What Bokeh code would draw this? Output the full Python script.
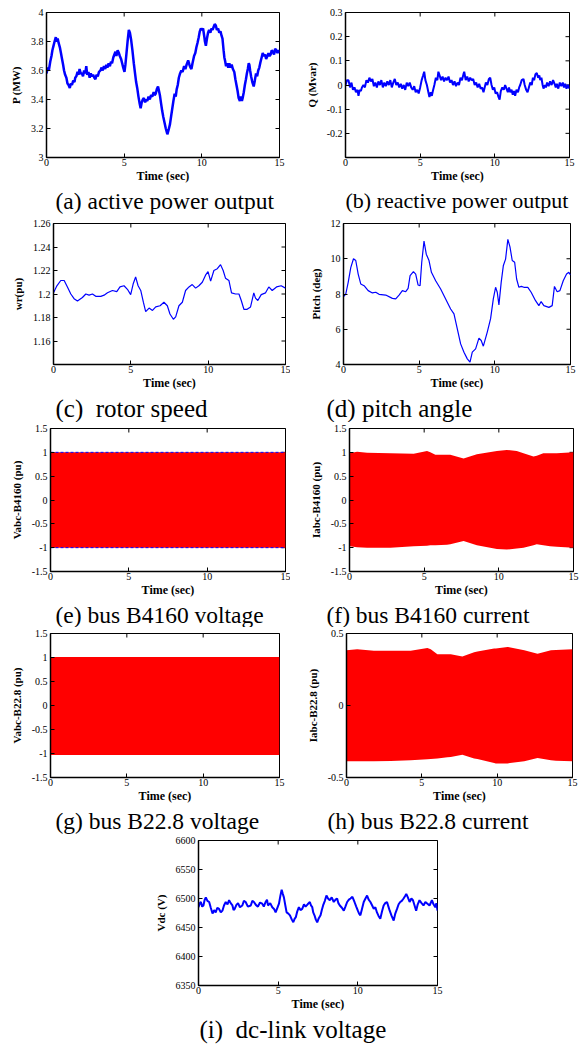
import math
from bokeh.plotting import figure
from bokeh.layouts import column, row, Spacer
from bokeh.models import FixedTicker, Title, Range1d
from bokeh.embed import file_html
from bokeh.resources import INLINE

# ---------------- data ----------------
X_TICKS = [0, 5, 10, 15]

# (a) active power P (MW)
P_T = [0.0, 0.08, 0.15, 0.24, 0.32, 0.38, 0.45, 0.52, 0.6, 0.66, 0.72, 0.78, 0.86, 0.93, 1.0, 1.07, 1.13, 1.2,
       1.28, 1.35, 1.42, 1.5, 1.57, 1.64, 1.72, 1.8, 1.85, 1.92, 2.0, 2.06, 2.13, 2.2, 2.28, 2.35, 2.42, 2.5,
       2.56, 2.62, 2.7, 2.78, 2.85, 2.92, 3.0, 3.08, 3.15, 3.22, 3.3, 3.38, 3.47, 3.55, 3.62, 3.7, 3.78, 3.85,
       3.92, 4.0, 4.08, 4.15, 4.22, 4.3, 4.37, 4.44, 4.5, 4.58, 4.66, 4.72, 4.8, 4.87, 4.94, 5.02, 5.08, 5.15,
       5.22, 5.3, 5.37, 5.45, 5.53, 5.62, 5.7, 5.77, 5.84, 5.92, 6.0, 6.06, 6.13, 6.2, 6.27, 6.35, 6.42, 6.49,
       6.57, 6.65, 6.73, 6.81, 6.9, 6.96, 7.03, 7.1, 7.18, 7.24, 7.3, 7.38, 7.45, 7.52, 7.6, 7.68, 7.78, 7.86,
       7.95, 8.03, 8.1, 8.17, 8.25, 8.32, 8.38, 8.45, 8.52, 8.6, 8.68, 8.76, 8.86, 8.94, 9.02, 9.12, 9.2, 9.27,
       9.33, 9.4, 9.5, 9.58, 9.65, 9.72, 9.8, 9.87, 9.94, 10.01, 10.08, 10.15, 10.2, 10.26, 10.33, 10.4, 10.47,
       10.55, 10.62, 10.69, 10.76, 10.83, 10.9, 10.97, 11.05, 11.12, 11.2, 11.27, 11.33, 11.4, 11.45, 11.49,
       11.56, 11.63, 11.7, 11.77, 11.85, 11.92, 12.0, 12.09, 12.16, 12.23, 12.3, 12.37, 12.45, 12.52, 12.58,
       12.63, 12.7, 12.77, 12.84, 12.9, 12.96, 13.02, 13.06, 13.11, 13.17, 13.25, 13.34, 13.41, 13.49, 13.56,
       13.63, 13.7, 13.78, 13.85, 13.92, 14.0, 14.07, 14.14, 14.22, 14.29, 14.36, 14.43, 14.5, 14.57, 14.65,
       14.72, 14.79, 14.87, 14.94, 15.0]
P_V = [3.58, 3.62, 3.60, 3.66, 3.70, 3.74, 3.77, 3.80, 3.83, 3.80, 3.82, 3.79, 3.76, 3.72, 3.68, 3.64, 3.60, 3.57,
       3.55, 3.51, 3.50, 3.48, 3.51, 3.50, 3.53, 3.52, 3.55, 3.56, 3.59, 3.57, 3.61, 3.58, 3.58, 3.56, 3.60, 3.58,
       3.63, 3.57, 3.59, 3.55, 3.58, 3.56, 3.57, 3.55, 3.54, 3.57, 3.56, 3.59, 3.60, 3.62, 3.60, 3.63, 3.61, 3.64,
       3.62, 3.65, 3.63, 3.66, 3.65, 3.69, 3.71, 3.73, 3.70, 3.74, 3.72, 3.70, 3.68, 3.65, 3.62, 3.59, 3.64, 3.72,
       3.80, 3.88, 3.86, 3.81, 3.74, 3.65, 3.58, 3.52, 3.48, 3.42, 3.37, 3.34, 3.38, 3.40, 3.41, 3.38, 3.40, 3.39,
       3.42, 3.40, 3.43, 3.42, 3.45, 3.43, 3.44, 3.47, 3.49, 3.46, 3.43, 3.37, 3.32, 3.28, 3.24, 3.20, 3.16, 3.19,
       3.23, 3.29, 3.34, 3.39, 3.44, 3.42, 3.47, 3.50, 3.55, 3.58, 3.60, 3.59, 3.63, 3.61, 3.64, 3.67, 3.64, 3.62,
       3.61, 3.65, 3.70, 3.72, 3.76, 3.79, 3.83, 3.87, 3.89, 3.88, 3.89, 3.84, 3.80, 3.77, 3.82, 3.86, 3.88,
       3.86, 3.89, 3.88, 3.90, 3.92, 3.91, 3.88, 3.89, 3.86, 3.87, 3.84, 3.82, 3.74, 3.69, 3.67,
       3.63, 3.65, 3.62, 3.65, 3.62, 3.64, 3.61, 3.59, 3.54, 3.50, 3.46, 3.41, 3.39, 3.42, 3.39,
       3.41, 3.45, 3.50, 3.54, 3.58, 3.61, 3.65, 3.64, 3.60, 3.56, 3.52, 3.49, 3.53, 3.58, 3.56,
       3.60, 3.62, 3.66, 3.69, 3.72, 3.70, 3.71, 3.68, 3.70, 3.72, 3.70, 3.71, 3.74, 3.73, 3.71,
       3.75, 3.74, 3.72, 3.74, 3.72]
P_TICKS = [3, 3.2, 3.4, 3.6, 3.8, 4]
P_LABELS = ["3", "3.2", "3.4", "3.6", "3.8", "4"]

# (b) reactive power Q (Mvar)
Q_T = [0.0, 0.1, 0.2, 0.3, 0.4, 0.5, 0.6, 0.7, 0.8, 0.87, 0.95, 1.03, 1.1, 1.2, 1.3, 1.4, 1.5, 1.6, 1.7, 1.8,
       1.9, 2.0, 2.1, 2.2, 2.3, 2.4, 2.5, 2.6, 2.7, 2.8, 2.9, 3.0, 3.1, 3.2, 3.3, 3.4, 3.5, 3.6, 3.7, 3.8, 3.9,
       4.0, 4.1, 4.2, 4.3, 4.4, 4.5, 4.6, 4.7, 4.8, 4.9, 5.0, 5.1, 5.2, 5.27, 5.35, 5.45, 5.55, 5.62, 5.7, 5.78,
       5.85, 5.95, 6.05, 6.15, 6.22, 6.3, 6.4, 6.5, 6.6, 6.7, 6.8, 6.9, 7.0, 7.1, 7.2, 7.3, 7.4, 7.5, 7.6, 7.7,
       7.8, 7.9, 7.95, 8.05, 8.15, 8.25, 8.35, 8.45, 8.55, 8.65, 8.75, 8.85, 8.95, 9.05, 9.15, 9.24, 9.32, 9.4,
       9.5, 9.6, 9.69, 9.78, 9.87, 9.96, 10.05, 10.15, 10.25, 10.32, 10.4, 10.5, 10.6, 10.69, 10.78, 10.87,
       10.95, 11.03, 11.12, 11.2, 11.28, 11.36, 11.45, 11.55, 11.63, 11.7, 11.8, 11.92, 12.0, 12.1, 12.19,
       12.28, 12.37, 12.47, 12.55, 12.63, 12.72, 12.81, 12.9, 12.98, 13.04, 13.12, 13.2, 13.26, 13.34, 13.42,
       13.5, 13.6, 13.7, 13.8, 13.9, 14.0, 14.08, 14.15, 14.25, 14.35, 14.45, 14.55, 14.63, 14.71, 14.8, 14.9,
       15.0]
Q_V = [0.0, 0.02, 0.02, -0.01, 0.01, -0.02, -0.01, -0.03, -0.02, -0.045, -0.02, -0.025, -0.01, 0.0, -0.01, 0.02,
       0.01, 0.03, 0.015, 0.025, -0.005, 0.01, -0.01, 0.015, 0.0, 0.02, -0.01, 0.01, -0.005, 0.015, 0.0, 0.02,
       -0.01, 0.01, 0.025, 0.0, 0.01, -0.01, 0.005, -0.015, 0.0, -0.02, 0.01, -0.005, 0.01, -0.01, -0.02, -0.005,
       -0.03, -0.02, -0.035, -0.01, 0.02, 0.04, 0.055, 0.02, 0.0, -0.03, -0.05, -0.03, -0.045, -0.025, 0.0, 0.03,
       0.02, 0.055, 0.04, 0.02, 0.035, 0.015, 0.03, 0.02, 0.035, 0.01, 0.02, 0.0, 0.015, -0.005, 0.01, 0.0, 0.03,
       0.02, 0.045, 0.055, 0.02, 0.035, 0.015, 0.03, 0.02, 0.025, 0.0, 0.01, -0.01, 0.005, -0.015, -0.01, -0.03,
       -0.01, 0.01, 0.0, 0.025, 0.03, 0.0, -0.02, -0.01, -0.035, -0.03, -0.05, -0.06, -0.025, -0.01, -0.02, 0.0,
       -0.015, -0.03, -0.01, -0.03, -0.02, -0.04, -0.025, -0.045, -0.02, -0.03, -0.01, 0.0, 0.02, 0.025, 0.0,
       -0.02, -0.03, -0.01, 0.01, 0.0, 0.03, 0.02, 0.045, 0.05, 0.03, 0.04, 0.02, 0.03, 0.0, -0.015, 0.0, -0.01,
       0.01, -0.005, 0.015, 0.0, 0.02, 0.005, -0.01, 0.005, -0.015, 0.01, -0.005, 0.01, -0.01, 0.005, -0.015,
       0.0, -0.015]
Q_TICKS = [-0.2, -0.1, 0, 0.1, 0.2, 0.3]
Q_LABELS = ["-0.2", "-0.1", "0", "0.1", "0.2", "0.3"]

# (c) rotor speed wr (pu)
W_T = [0, 0.22, 0.47, 0.69, 0.9, 1.12, 1.33, 1.55, 1.87, 2.09, 2.3, 2.52, 2.73, 3.06, 3.27, 3.49, 3.81, 4.09,
       4.3, 4.56, 4.78, 4.99, 5.16, 5.31, 5.47, 5.64, 5.81, 5.96, 6.18, 6.4, 6.61, 6.89, 7.14, 7.36, 7.53, 7.75,
       7.9, 8.11, 8.33, 8.54, 8.76, 8.97, 9.19, 9.4, 9.62, 9.83, 9.99, 10.16, 10.37, 10.59, 10.8, 10.97, 11.12,
       11.34, 11.51, 11.77, 11.99, 12.14, 12.31, 12.52, 12.74, 12.95, 13.06, 13.21, 13.43, 13.71, 13.92, 14.14,
       14.42, 14.72, 15.0]
W_V = [1.201, 1.207, 1.2115, 1.2115, 1.206, 1.200, 1.196, 1.194, 1.197, 1.200, 1.199, 1.200, 1.198, 1.198, 1.199,
       1.201, 1.203, 1.202, 1.206, 1.207, 1.204, 1.1995, 1.209, 1.2145, 1.207, 1.203, 1.193, 1.185, 1.188, 1.186,
       1.189, 1.190, 1.193, 1.190, 1.183, 1.1785, 1.1805, 1.190, 1.193, 1.203, 1.206, 1.208, 1.205, 1.207, 1.210,
       1.216, 1.219, 1.211, 1.220, 1.2215, 1.225, 1.220, 1.2135, 1.2115, 1.201, 1.200, 1.200, 1.1945, 1.187,
       1.187, 1.189, 1.201, 1.1965, 1.1945, 1.1995, 1.201, 1.206, 1.203, 1.206, 1.207, 1.205]
W_TICKS = [1.16, 1.18, 1.2, 1.22, 1.24, 1.26]
W_LABELS = ["1.16", "1.18", "1.2", "1.22", "1.24", "1.26"]

# (d) pitch angle (deg)
B_T = [0, 0.15, 0.31, 0.48, 0.66, 0.81, 0.97, 1.14, 1.36, 1.63, 1.91, 2.13, 2.35, 2.79, 3.23, 3.45, 3.67, 3.89,
       4.11, 4.27, 4.4, 4.62, 4.77, 4.93, 5.06, 5.17, 5.32, 5.47, 5.65, 5.81, 6.09, 6.42, 6.75, 7.08, 7.3, 7.52,
       7.74, 7.96, 8.18, 8.36, 8.51, 8.73, 8.95, 9.1, 9.24, 9.5, 9.72, 9.9, 10.05, 10.16, 10.27, 10.42, 10.56,
       10.71, 10.86, 11.0, 11.15, 11.31, 11.44, 11.59, 11.75, 11.92, 12.18, 12.4, 12.69, 12.91, 13.06, 13.24,
       13.57, 13.79, 13.94, 14.12, 14.3, 14.52, 14.74, 14.89, 15.0]
B_V = [7.85, 8.0, 8.66, 9.5, 10.0, 9.9, 9.13, 8.57, 8.47, 8.19, 8.06, 8.1, 7.98, 7.94, 7.75, 7.72, 7.94, 8.19,
       8.13, 8.32, 9.04, 9.27, 9.13, 8.51, 8.47, 9.8, 11.0, 10.26, 9.9, 9.23, 8.75, 8.28, 7.72, 7.15, 6.87, 6.02,
       5.17, 4.7, 4.32, 4.13, 4.7, 4.89, 5.5, 5.36, 5.04, 5.84, 6.6, 7.72, 8.38, 8.1, 7.38, 8.66, 9.6,
       9.98, 11.1, 10.67, 9.9, 9.8, 8.85, 8.38, 8.43, 8.38, 8.38, 8.1, 7.62, 7.34, 7.57, 7.34,
       7.24, 7.34, 8.43, 8.13, 8.19, 8.75, 9.13, 9.23, 9.08]
B_TICKS = [4, 6, 8, 10, 12]
B_LABELS = ["4", "6", "8", "10", "12"]

PU_TICKS = [-1.5, -1, -0.5, 0, 0.5, 1, 1.5]
PU_LABELS = ["-1.5", "-1", "-0.5", "0", "0.5", "1", "1.5"]

# (e) bus B4160 voltage envelope (pu)
E_T = [0, 5, 10, 15]
E_HI = [1.0, 1.0, 1.0, 1.0]
E_LO = [-1.0, -1.0, -1.0, -1.0]

# (f) bus B4160 current envelope (pu)
F_T = [0, 0.51, 1.18, 2.74, 4.3, 5.19, 5.41, 5.75, 6.53, 6.75, 7.64, 8.53, 9.87, 10.53, 11.2, 11.65, 12.32,
       12.54, 12.98, 13.43, 13.88, 15.0]
F_HI = [0.98, 1.01, 0.99, 0.98, 0.97, 1.03, 1.0, 0.95, 0.95, 0.95, 0.87, 0.96, 1.03, 1.05, 1.03, 0.98, 0.91,
        0.93, 0.98, 0.98, 0.98, 1.0]
F_LO = [-0.97, -0.99, -1.0, -1.0, -0.97, -0.96, -0.95, -0.95, -0.94, -0.93, -0.86, -0.95, -1.03, -1.04, -1.02,
        -1.0, -0.95, -0.93, -0.95, -0.97, -0.98, -1.0]

# (g) bus B22.8 voltage envelope (pu)
G_T = [0, 5, 10, 15]
G_HI = [1.01, 1.01, 1.01, 1.01]
G_LO = [-1.03, -1.03, -1.03, -1.03]

# (h) bus B22.8 current envelope (pu)
H_T = [0, 0.71, 1.82, 2.93, 4.26, 5.37, 5.59, 6.03, 6.7, 6.92, 7.69, 8.47, 8.69, 9.8, 9.91, 10.69, 11.8, 12.68,
       13.57, 13.9, 15.0]
H_HI = [0.384, 0.39, 0.38, 0.38, 0.38, 0.40, 0.39, 0.356, 0.356, 0.356, 0.34, 0.37, 0.375, 0.395, 0.395, 0.407,
        0.384, 0.36, 0.384, 0.386, 0.39]
H_LO = [-0.388, -0.388, -0.388, -0.385, -0.38, -0.374, -0.372, -0.368, -0.36, -0.357, -0.342, -0.368, -0.372,
        -0.4, -0.402, -0.402, -0.388, -0.365, -0.38, -0.384, -0.388]
H_TICKS = [-0.5, 0, 0.5]
H_LABELS = ["-0.5", "0", "0.5"]

# (i) dc-link voltage (V)
V_T = [0, 0.08, 0.15, 0.23, 0.31, 0.38, 0.46, 0.56, 0.67, 0.77, 0.88, 0.98, 1.08, 1.18, 1.29, 1.4, 1.5, 1.6,
       1.71, 1.82, 1.92, 2.02, 2.13, 2.2, 2.27, 2.38, 2.48, 2.6, 2.75, 2.85, 2.96, 3.1, 3.28, 3.38, 3.48, 3.6,
       3.73, 3.86, 4.0, 4.1, 4.21, 4.3, 4.36, 4.5, 4.63, 4.74, 4.84, 4.95, 5.05, 5.14, 5.22, 5.29, 5.36, 5.45,
       5.53, 5.64, 5.74, 5.85, 5.95, 6.03, 6.11, 6.2, 6.3, 6.4, 6.51, 6.62, 6.72, 6.85, 6.99, 7.06, 7.14, 7.2,
       7.28, 7.36, 7.45, 7.55, 7.66, 7.74, 7.82, 7.93, 8.03, 8.13, 8.24, 8.36, 8.49, 8.6, 8.7, 8.78, 8.87, 9.0,
       9.12, 9.22, 9.33, 9.44, 9.54, 9.66, 9.79, 9.9, 10.0, 10.08, 10.16, 10.26, 10.37, 10.48, 10.58, 10.68,
       10.79, 10.9, 11.0, 11.1, 11.2, 11.3, 11.41, 11.52, 11.62, 11.72, 11.83, 11.92, 12.0, 12.12, 12.25, 12.35,
       12.46, 12.56, 12.66, 12.76, 12.87, 12.96, 13.04, 13.14, 13.25, 13.36, 13.46, 13.56, 13.66, 13.76, 13.87,
       14.0, 14.12, 14.24, 14.37, 14.5, 14.65, 14.75, 14.86, 14.93, 15.0]
V_V = [6485, 6492, 6494, 6486, 6488, 6497, 6502, 6496, 6494, 6484, 6474, 6480, 6476, 6484, 6482, 6476, 6479, 6488,
       6494, 6490, 6497, 6492, 6488, 6480, 6482, 6489, 6492, 6485, 6488, 6496, 6494, 6486, 6488, 6496, 6494, 6489,
       6486, 6493, 6491, 6486, 6494, 6498, 6488, 6492, 6485, 6482, 6476, 6484, 6491, 6505, 6515, 6508, 6502, 6488,
       6476, 6474, 6471, 6464, 6459, 6465, 6468, 6478, 6485, 6480, 6482, 6490, 6486, 6490, 6494, 6488, 6485, 6476,
       6471, 6464, 6459, 6466, 6471, 6480, 6488, 6496, 6505, 6500, 6497, 6502, 6494, 6498, 6500, 6492, 6488, 6484,
       6479, 6486, 6494, 6498, 6500, 6503, 6494, 6486, 6479, 6474, 6471, 6482, 6494, 6500, 6505, 6498,
       6494, 6488, 6482, 6485, 6476, 6470, 6465, 6478, 6488, 6492, 6494, 6486, 6479, 6470, 6462, 6474,
       6482, 6490, 6494, 6496, 6500, 6504, 6508, 6502, 6494, 6500, 6497, 6488, 6479, 6490, 6497,
       6492, 6488, 6494, 6491, 6488, 6497, 6490, 6485, 6492, 6479]
V_TICKS = [6350, 6400, 6450, 6500, 6550, 6600]
V_LABELS = ["6350", "6400", "6450", "6500", "6550", "6600"]

# ---------------- styling helpers ----------------
SERIF = "Liberation Serif"
BLUE = "#0000FF"
RED = "#FF0000"


def make_fig(W, H, L, T, fw, fh, yr, yticks, ylabels, ylabel, caption, cap_off, cap_size):
    R = W - L - fw
    B = H - T - fh
    p = figure(width=W, height=H, min_border_left=L, min_border_right=R,
               min_border_top=T, min_border_bottom=B,
               x_range=Range1d(X_TICKS[0], X_TICKS[-1]), y_range=Range1d(*yr),
               output_backend="svg", toolbar_location=None, tools="")
    p.xgrid.visible = False
    p.ygrid.visible = False
    p.outline_line_color = "black"
    p.outline_line_width = 1
    p.background_fill_color = "white"
    p.border_fill_color = "white"

    xa = p.xaxis[0]
    ya = p.yaxis[0]
    xa.ticker = FixedTicker(ticks=X_TICKS)
    ya.ticker = FixedTicker(ticks=yticks)
    xa.major_label_overrides = {t: str(t) for t in X_TICKS}
    ya.major_label_overrides = {t: s for t, s in zip(yticks, ylabels)}
    for ax in (xa, ya):
        ax.major_tick_in = 4
        ax.major_tick_out = 0
        ax.minor_tick_line_color = None
        ax.axis_line_color = "black"
        ax.axis_line_width = 1.5
        ax.major_tick_line_color = "black"
        ax.major_label_text_font = SERIF
        ax.major_label_text_font_size = "10px"
        ax.major_label_text_color = "black"
        ax.axis_label_text_font = SERIF
        ax.axis_label_text_font_style = "bold"
        ax.axis_label_text_color = "black"
    xa.axis_label = "Time (sec)"
    xa.axis_label_text_font_size = "12px"
    xa.major_label_standoff = 1
    xa.axis_label_standoff = 0
    ya.axis_label = ylabel
    ya.axis_label_text_font_size = "11px"
    ya.major_label_standoff = 3
    ya.axis_label_standoff = 6

    # inward tick marks on the right and top edges (MATLAB box style)
    p.scatter(x=[X_TICKS[-1]] * len(yticks), y=yticks, marker="dash", size=8,
              line_color="black", line_width=1)
    p.scatter(x=X_TICKS, y=[yr[1]] * len(X_TICKS), marker="dash", size=8,
              angle=math.pi / 2, line_color="black", line_width=1)

    cap = Title(text=caption, align="left", offset=cap_off, text_font=SERIF,
                text_font_size=cap_size, text_font_style="normal", text_color="black",
                standoff=0)
    p.add_layout(cap, "below")
    return p


# row 1
fa = make_fig(290, 217, 46, 9, 233, 148, (3, 4), P_TICKS, P_LABELS, "P (MW)",
              "(a) active power output", 9, "23.5px")
fa.line(P_T, P_V, line_color=BLUE, line_width=2.5)
fb = make_fig(290, 217, 55, 12, 224, 145, (-0.3, 0.3), Q_TICKS, Q_LABELS, "Q (Mvar)",
              "(b) reactive power output", 0, "22px")
fb.line(Q_T, Q_V, line_color=BLUE, line_width=2)

# row 2
fc = make_fig(290, 205, 53, 5, 232, 142, (1.14, 1.26), W_TICKS, W_LABELS, "wr(pu)",
              "(c)\u00a0 rotor speed", 2, "25px")
fc.line(W_T, W_V, line_color=BLUE, line_width=1.2)
fd = make_fig(290, 205, 53, 6, 227, 141, (4, 12), B_TICKS, B_LABELS, "Pitch (deg)",
              "(d) pitch angle", -17, "25px")
fd.line(B_T, B_V, line_color=BLUE, line_width=1.2)

# row 3
fe = make_fig(290, 205, 50, 6, 235, 143, (-1.5, 1.5), PU_TICKS, PU_LABELS, "Vabc-B4160 (pu)",
              "(e) bus B4160 voltage", 5, "23.5px")
fe.varea(x=E_T, y1=E_LO, y2=E_HI, fill_color=RED)
fe.line(E_T, E_HI, line_color=BLUE, line_width=1, line_dash="3 2")
fe.line(E_T, E_LO, line_color=BLUE, line_width=1, line_dash="3 2")
ff = make_fig(290, 205, 59, 6, 224, 143, (-1.5, 1.5), PU_TICKS, PU_LABELS, "Iabc-B4160 (pu)",
              "(f) bus B4160 current", -23, "23.5px")
ff.varea(x=F_T, y1=F_LO, y2=F_HI, fill_color=RED)

# row 4
fg = make_fig(290, 207, 50, 6, 229, 144, (-1.5, 1.5), PU_TICKS, PU_LABELS, "Vabc-B22.8 (pu)",
              "(g) bus B22.8 voltage", 5, "23.5px")
fg.varea(x=G_T, y1=G_LO, y2=G_HI, fill_color=RED)
fh = make_fig(290, 207, 56, 6, 226, 144, (-0.5, 0.5), H_TICKS, H_LABELS, "Iabc-B22.8 (pu)",
              "(h) bus B22.8 current", -19, "23.5px")
fh.varea(x=H_T, y1=H_LO, y2=H_HI, fill_color=RED)

# row 5
fi = make_fig(310, 210, 53, 6, 239, 145, (6350, 6600), V_TICKS, V_LABELS, "Vdc (V)",
              "(i)\u00a0 dc-link voltage", 1, "25px")
fi.line(V_T, V_V, line_color=BLUE, line_width=2)

layout = column(
    row(fa, fb, spacing=0),
    row(fc, fd, spacing=0),
    row(fe, ff, spacing=0),
    row(fg, fh, spacing=0),
    row(Spacer(width=145, height=210), fi, spacing=0),
    spacing=0,
)

open("out.html", "w").write(file_html(layout, INLINE))
